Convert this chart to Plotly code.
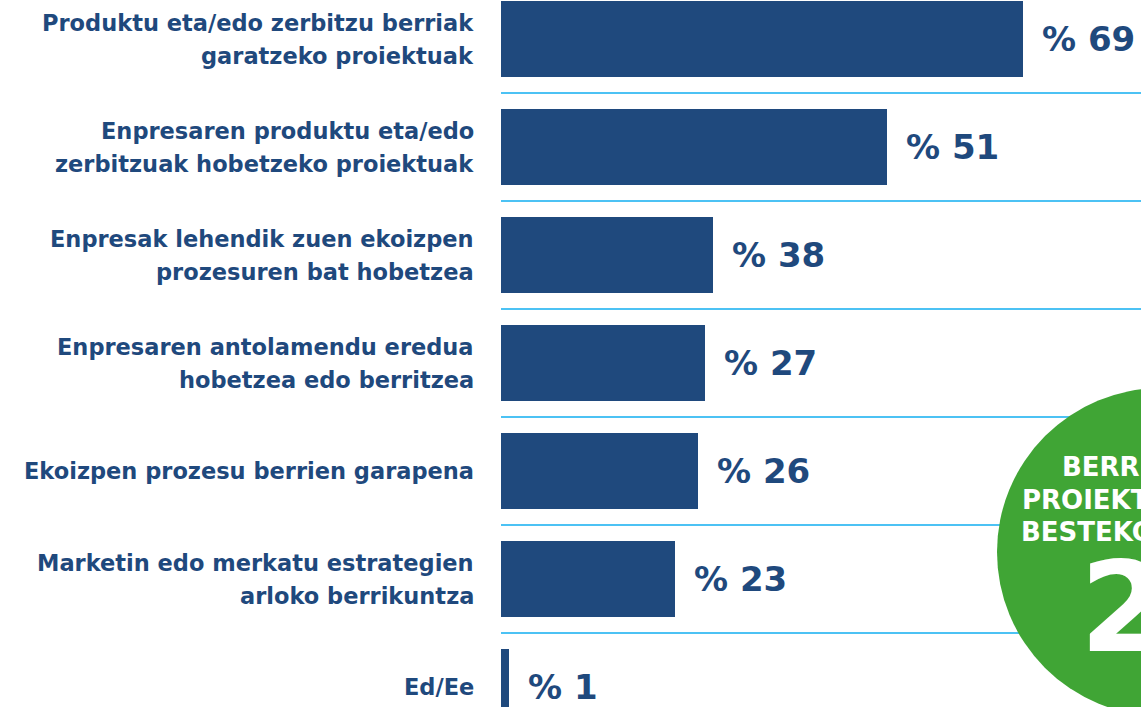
import plotly.graph_objects as go

# ---- data ----
categories = [
    "Produktu eta/edo zerbitzu berriak\ngaratzeko proiektuak",
    "Enpresaren produktu eta/edo\nzerbitzuak hobetzeko proiektuak",
    "Enpresak lehendik zuen ekoizpen\nprozesuren bat hobetzea",
    "Enpresaren antolamendu eredua\nhobetzea edo berritzea",
    "Ekoizpen prozesu berrien garapena",
    "Marketin edo merkatu estrategien\narloko berrikuntza",
    "Ed/Ee",
]
bar_lengths = [69, 51, 28, 27, 26, 23, 1]          # bar lengths as drawn
value_labels = ["% 69", "% 51", "% 38", "% 27", "% 26", "% 23", "% 1"]
circle_lines = ["BERRIKUNTZA", "PROIEKTUEN BATEZ", "BESTEKOA"]
circle_number = "2"

# ---- style ----
W, H = 1141, 707
BLUE = "#1f497d"
LINE = "#4cc2f4"
GREEN = "#40a535"
FONT = "DejaVu Sans"

x0_px = 501
px_per_unit = 7.567
xmax = (W - x0_px) / px_per_unit
pitch = 108.0
first_center = 39.0
ylo = -first_center / pitch
yhi = (H - first_center) / pitch

fig = go.Figure()
fig.add_trace(go.Bar(
    x=bar_lengths, y=categories, orientation="h",
    marker=dict(color=BLUE, line=dict(width=0)),
    width=0.70, hoverinfo="skip",
))

annotations = []
for cat, val, lab in zip(categories, bar_lengths, value_labels):
    lines = cat.split("\n")
    n = len(lines)
    for k, ln in enumerate(lines):
        shift = (k - (n - 1) / 2) * -33
        annotations.append(dict(
            x=476 / W, xref="paper", y=cat, yref="y", yshift=shift,
            text=f"<b>{ln}</b>", showarrow=False, xanchor="right", yanchor="middle",
            font=dict(family=FONT, size=22.5, color=BLUE),
        ))
    annotations.append(dict(
        x=val, xref="x", y=cat, yref="y", xshift=17,
        text=f"<b>{lab}</b>", showarrow=False, xanchor="left", yanchor="middle",
        font=dict(family=FONT, size=34, color=BLUE),
    ))

shapes = []
# separator lines between rows
for i in range(len(categories) - 1):
    yy = i + 0.5
    shapes.append(dict(type="line", xref="paper", yref="y",
                       x0=x0_px / W, x1=1, y0=yy, y1=yy,
                       line=dict(color=LINE, width=2), layer="below"))

# green circle
cx, cy, r = 1161, 552, 164
shapes.append(dict(type="circle", xref="paper", yref="paper",
                   x0=(cx - r) / W, x1=(cx + r) / W,
                   y0=1 - (cy + r) / H, y1=1 - (cy - r) / H,
                   fillcolor=GREEN, line=dict(width=0), layer="above"))

circle_x = [1060, 1020, 1019]
circle_y = [467, 500, 532]
for t, xx, yy in zip(circle_lines, circle_x, circle_y):
    annotations.append(dict(
        x=xx / W, xref="paper", y=1 - yy / H, yref="paper",
        text=f"<b>{t}</b>", showarrow=False, xanchor="left", yanchor="middle",
        font=dict(family=FONT, size=26, color="white"),
    ))
annotations.append(dict(
    x=1078 / W, xref="paper", y=1 - 607 / H, yref="paper",
    text=f"<b>{circle_number}</b>", showarrow=False, xanchor="left", yanchor="middle",
    font=dict(family=FONT, size=125, color="white"),
))

fig.update_layout(
    width=W, height=H,
    margin=dict(l=0, r=0, t=0, b=0),
    paper_bgcolor="white", plot_bgcolor="white",
    showlegend=False,
    xaxis=dict(domain=[x0_px / W, 1], range=[0, xmax], visible=False, fixedrange=True),
    yaxis=dict(range=[yhi, ylo], visible=False, type="category", fixedrange=True),
    annotations=annotations,
    shapes=shapes,
    bargap=0,
)

fig.write_html("out.html", config={"displayModeBar": False},
               post_script="document.body.style.margin='0';document.body.style.overflow='hidden';")
